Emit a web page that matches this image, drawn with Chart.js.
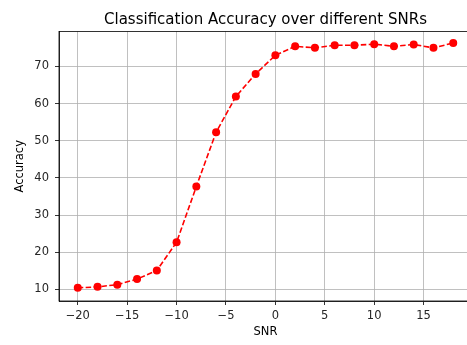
<!DOCTYPE html>
<html>
<head>
<meta charset="utf-8">
<script src="https://cdn.jsdelivr.net/npm/chart.js@4"></script>
<style>
html,body{margin:0;padding:0;background:#fff;overflow:hidden;width:467px;height:345px;}
canvas{display:block;}
</style>
</head>
<body>
<canvas id="c" width="480" height="345" style="width:480px;height:345px"></canvas>
<script>
const snr = [-20,-18,-16,-14,-12,-10,-8,-6,-4,-2,0,2,4,6,8,10,12,14,16,18];
const accuracy = [10.45,10.7,11.3,12.8,15.1,22.7,37.7,52.3,61.9,68.0,73.0,75.4,75.0,75.7,75.7,76.0,75.4,75.9,75.0,76.3];
const xTicks = [-20,-15,-10,-5,0,5,10,15];
const yTicks = [10,20,30,40,50,60,70];

const FONT = "'DejaVu Sans', sans-serif";
Chart.defaults.font.family = FONT;
Chart.defaults.color = '#262626';

const frame = {
  id: 'frame',
  afterDatasetsDraw(chart) {
    const {ctx, chartArea: a} = chart;
    ctx.save();
    ctx.strokeStyle = '#000';
    ctx.lineWidth = 0.8;
    ctx.strokeRect(a.left, a.top, a.right - a.left, a.bottom - a.top);
    ctx.restore();
  }
};

new Chart(document.getElementById('c'), {
  type: 'line',
  data: {
    datasets: [{
      data: snr.map((x, i) => ({x, y: accuracy[i]})),
      borderColor: '#ff0000',
      backgroundColor: '#ff0000',
      borderWidth: 1.6,
      borderDash: [5.5, 2.4],
      pointRadius: 4,
      pointBorderWidth: 0,
      pointBackgroundColor: '#ff0000',
      tension: 0,
      fill: false
    }]
  },
  options: {
    responsive: false,
    animation: false,
    devicePixelRatio: 1,
    layout: {padding: {left: 0, right: 8, top: 0, bottom: 6}},
    plugins: {
      legend: {display: false},
      tooltip: {enabled: false},
      title: {
        display: true,
        fullSize: false,
        text: 'Classification Accuracy over different SNRs',
        color: '#000',
        font: {size: 15, weight: 'normal', family: FONT},
        padding: {top: 11.5, bottom: 2}
      }
    },
    scales: {
      x: {
        type: 'linear',
        min: -21.9,
        max: 19.9,
        afterBuildTicks: s => { s.ticks = xTicks.map(v => ({value: v})); },
        afterFit: s => { s.height = 38; },
        ticks: {
          font: {size: 11.5},
          color: '#262626',
          padding: 4,
          maxRotation: 0,
          callback: v => String(v).replace('-', '\u2212')
        },
        grid: {color: '#b0b0b0', lineWidth: 0.8, tickColor: '#000', tickLength: 4, tickWidth: 0.8},
        border: {color: '#000', width: 0.8},
        title: {display: true, text: 'SNR', color: '#000', font: {size: 11.5}, padding: {top: 0, bottom: 0}}
      },
      y: {
        min: 6.9,
        max: 79.4,
        afterBuildTicks: s => { s.ticks = yTicks.map(v => ({value: v})); },
        afterFit: s => { s.width = 59; },
        ticks: {font: {size: 11.5}, color: '#262626', padding: 6},
        grid: {color: '#b0b0b0', lineWidth: 0.8, tickColor: '#000', tickLength: 4, tickWidth: 0.8},
        border: {color: '#000', width: 0.8},
        title: {display: true, text: 'Accuracy', color: '#000', font: {size: 11.5}, padding: {top: 13.5, bottom: 0}}
      }
    }
  },
  plugins: [frame]
});
</script>
</body>
</html>
